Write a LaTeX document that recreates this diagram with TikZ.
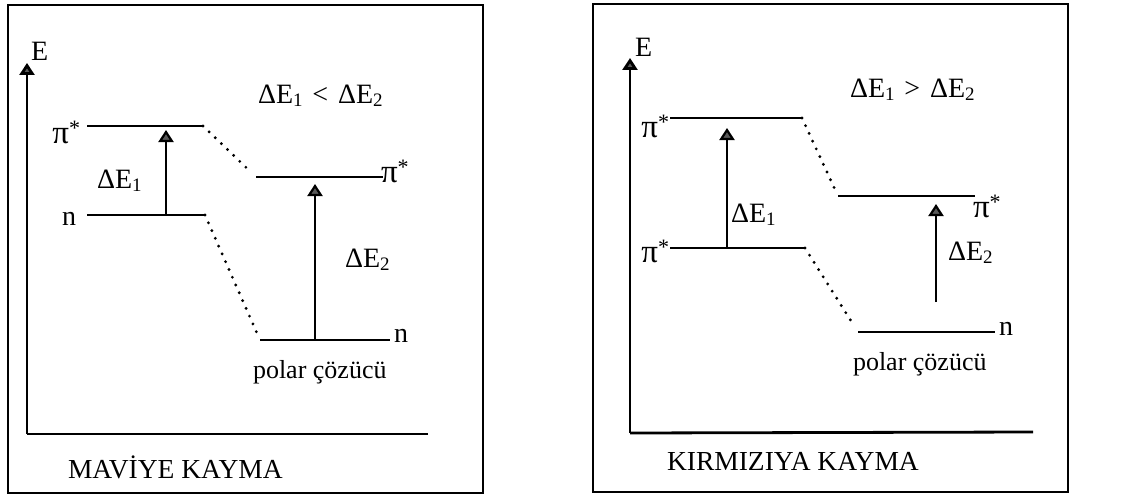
\documentclass[tikz,border=0pt]{standalone}
\usepackage{fontspec}
\setmainfont{Liberation Serif}
\usetikzlibrary{arrows.meta}
\newcommand\lsub[1]{\raisebox{-0.3ex}{\fontsize{19}{19}\selectfont #1}}
\newcommand\lsup[1]{\raisebox{0.6ex}{\fontsize{22}{22}\selectfont #1}}
\newcommand\pistar{{\fontsize{33}{33}\selectfont π}\lsup{*}}
\begin{document}
\begin{tikzpicture}[x=1pt,y=-1pt,
  font=\fontsize{28}{32}\selectfont,
  frame/.style={line width=2.4pt},
  axisline/.style={line width=2.8pt},
  axis/.style={line width=2.8pt,-{Triangle[width=15pt,length=12pt,fill=black!65]}},
  level/.style={line width=2.6pt},
  tie/.style={line width=3.2pt,dash pattern=on 0pt off 8.5pt,line cap=round},
  gap/.style={line width=2.2pt,-{Triangle[width=15pt,length=12pt,fill=black!65]}},
  lab/.style={inner sep=0pt,outer sep=0pt},
  soltext/.style={inner sep=0pt,outer sep=0pt,font=\fontsize{26}{30}\selectfont},
  captext/.style={inner sep=0pt,outer sep=0pt,font=\fontsize{27.5}{30}\selectfont}]
\useasboundingbox (0,0) rectangle (1125,495);
% ---------- left panel ----------
\draw[frame] (8,5) rectangle (483,493);
\coordinate (o1) at (27,434);
\coordinate (y1) at (27,63);
\coordinate (x1) at (428,434);
\draw[axisline] (x1) -- (o1);
\draw[axis] (o1) -- (y1);
\node[lab,anchor=base west] (E1) at (31,61) {E};
\coordinate (a1) at (87,126);  \coordinate (b1) at (203,126);
\coordinate (c1) at (87,215);  \coordinate (d1) at (205,215);
\coordinate (e1) at (256,177); \coordinate (f1) at (383,177);
\coordinate (g1) at (260,340); \coordinate (h1) at (390,340);
\draw[level] (a1) -- (b1);
\draw[level] (c1) -- (d1);
\draw[level] (e1) -- (f1);
\draw[level] (g1) -- (h1);
\draw[tie,shorten >=8pt] (b1) -- (e1);
\draw[tie,shorten >=6pt] (d1) -- (g1);
\coordinate (s1) at (166,215); \coordinate (t1) at (166,130);
\coordinate (s2) at (315,340); \coordinate (t2) at (315,184);
\draw[gap] (s1) -- (t1);
\draw[gap] (s2) -- (t2);
\node[lab,anchor=base east] (pa1) at (80,143) {\pistar};
\node[lab,anchor=base east] (na1) at (76,225) {n};
\node[lab,anchor=base west] (pb1) at (381,182) {\pistar};
\node[lab,anchor=base west] (nb1) at (394,342) {n};
\node[lab,anchor=base west] (d11) at (97,188) {ΔE\lsub{1}};
\node[lab,anchor=base west] (d21) at (345,267) {ΔE\lsub{2}};
\node[lab,anchor=base west] (rel1) at (258,103) {ΔE\lsub{1}\hspace{0.35em}<\hspace{0.35em}ΔE\lsub{2}};
\node[soltext,anchor=base west] (pol1) at (253,378) {polar çözücü};
\node[captext,anchor=base west] (cap1) at (68,478) {MAVİYE KAYMA};
% ---------- right panel ----------
\draw[frame] (593,4) rectangle (1068,492);
\coordinate (o2) at (630,433);
\coordinate (y2) at (630,58);
\coordinate (x2) at (1033,432);
\draw[axisline] (x2) -- (o2);
\draw[axis] (o2) -- (y2);
\node[lab,anchor=base west] (E2) at (635,57) {E};
\coordinate (a2) at (670,118); \coordinate (b2) at (802,118);
\coordinate (c2) at (670,248); \coordinate (d2) at (805,248);
\coordinate (e2) at (838,196); \coordinate (f2) at (975,196);
\coordinate (g2) at (858,332); \coordinate (h2) at (995,332);
\draw[level] (a2) -- (b2);
\draw[level] (c2) -- (d2);
\draw[level] (e2) -- (f2);
\draw[level] (g2) -- (h2);
\draw[tie,shorten >=7pt] (b2) -- (e2);
\draw[tie,shorten >=6pt] (d2) -- (g2);
\coordinate (s3) at (727,248); \coordinate (t3) at (727,128);
\coordinate (s4) at (936,302); \coordinate (t4) at (936,204);
\draw[gap] (s3) -- (t3);
\draw[gap] (s4) -- (t4);
\node[lab,anchor=base east] (pa2) at (669,137) {\pistar};
\node[lab,anchor=base east] (pc2) at (669,262) {\pistar};
\node[lab,anchor=base west] (pb2) at (973,217) {\pistar};
\node[lab,anchor=base west] (nb2) at (999,335) {n};
\node[lab,anchor=base west] (d12) at (731,222) {ΔE\lsub{1}};
\node[lab,anchor=base west] (d22) at (948,260) {ΔE\lsub{2}};
\node[lab,anchor=base west] (rel2) at (850,97) {ΔE\lsub{1}\hspace{0.35em}>\hspace{0.35em}ΔE\lsub{2}};
\node[soltext,anchor=base west] (pol2) at (853,370) {polar çözücü};
\node[captext,anchor=base west] (cap2) at (667,470) {KIRMIZIYA KAYMA};
\end{tikzpicture}
\end{document}
